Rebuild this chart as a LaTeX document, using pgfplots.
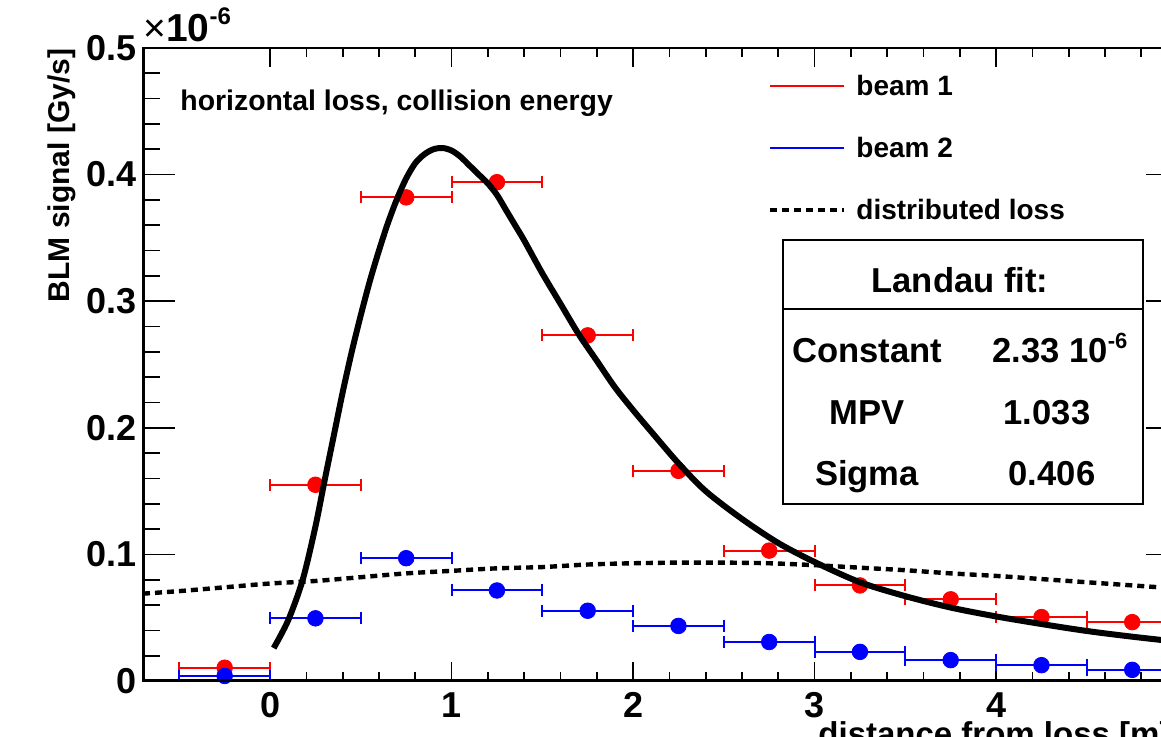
\documentclass[border=0pt]{standalone}
\usepackage{pgfplots}
\pgfplotsset{compat=1.18}
\usepackage{fontspec}
\setmainfont{Liberation Sans}
\definecolor{beamred}{RGB}{255,0,0}
\definecolor{beamblue}{RGB}{0,0,255}
\begin{document}
\bfseries
\begin{tikzpicture}
\pgfplotsset{
  frame/.style={
    scale only axis, width=517.3pt, height=316.5pt,
    xmin=-0.7, xmax=5, ymin=0, ymax=0.5,
    at={(0pt,0pt)}, anchor=south west,
  },
}
% y axis: ticks, tick labels and title
\begin{axis}[frame, hide x axis, axis line style={draw=none},
  ytick={0,0.1,0.2,0.3,0.4,0.5}, minor y tick num=4, ytick pos=both, tick align=inside,
  major tick length=16pt, minor tick length=8.5pt,
  tick style={line width=0.85pt, black},
  scaled y ticks=false,
  yticklabel style={font=\fontsize{18}{18}\selectfont\bfseries, inner sep=0pt, xshift=-3pt,
     /pgf/number format/.cd, fixed, precision=1, assume math mode=true},
  ylabel={BLM signal [Gy/s]},
  every axis y label/.style={at={(rel axis cs:-0.0715,1.01)}, anchor=base east, rotate=90,
     font=\fontsize{15}{15}\selectfont\bfseries},
]
\end{axis}
% x axis, frame and data
\begin{axis}[frame,
  clip mode=individual,
  axis line style={line width=1pt},
  ytick=\empty,
  xtick={0,1,2,3,4,5}, minor x tick num=4, xtick pos=both, tick align=inside,
  major tick length=9.5pt, minor tick length=4.5pt,
  tick style={line width=0.85pt, black},
  xticklabel style={font=\fontsize{18}{18}\selectfont\bfseries, inner sep=0pt, yshift=-5.5pt,
     /pgf/number format/assume math mode=true},
  xlabel={distance from loss [m]},
  every axis x label/.style={at={(rel axis cs:1,0)}, anchor=base east, yshift=-32.5pt,
     font=\fontsize{16.5}{16.5}\selectfont\bfseries},
  legend style={draw=none, fill=none, inner sep=0pt, outer sep=0pt,
    at={(rel axis cs:0.6041,0.9558)}, anchor=north west,
    font=\fontsize{14}{14}\selectfont\bfseries,
    row sep=21pt, column sep=0pt,
    nodes={inner sep=0pt, text height=10pt, text depth=0pt},
    /tikz/every odd column/.append style={column sep=5pt}},
  legend cell align=left,
]
% beam 1
\addplot[beamred, only marks, mark=*, mark size=3.9pt,
  legend image code/.code={\draw[beamred, line width=0.7pt] (0pt,0pt) -- (37pt,0pt);},
  error bars/.cd, x dir=both, x fixed=0.25,
  error bar style={line width=1pt, beamred},
  error mark options={rotate=90, beamred, mark size=3pt, line width=1pt}]
coordinates {
(-0.25,0.0105) (0.25,0.155) (0.75,0.382) (1.25,0.394) (1.75,0.273)
(2.25,0.166) (2.75,0.103) (3.25,0.0755) (3.75,0.0645) (4.25,0.0505) (4.75,0.0465)
};
\addlegendentry{beam 1}
% beam 2
\addplot[beamblue, only marks, mark=*, mark size=3.9pt,
  legend image code/.code={\draw[beamblue, line width=0.7pt] (0pt,0pt) -- (37pt,0pt);},
  error bars/.cd, x dir=both, x fixed=0.25,
  error bar style={line width=1pt, beamblue},
  error mark options={rotate=90, beamblue, mark size=3pt, line width=1pt}]
coordinates {
(-0.25,0.004) (0.25,0.0495) (0.75,0.097) (1.25,0.0715) (1.75,0.0555)
(2.25,0.0435) (2.75,0.0308) (3.25,0.023) (3.75,0.0165) (4.25,0.0125) (4.75,0.0088)
};
\addlegendentry{beam 2}
% distributed loss
\addplot[black, line width=2.2pt, dash pattern=on 3.5pt off 2.5pt, smooth,
  legend image code/.code={\draw[black, line width=2.2pt, dash pattern=on 3.5pt off 2.5pt] (0pt,0pt) -- (37pt,0pt);}]
coordinates {
(-0.7,0.069) (-0.5,0.071) (-0.25,0.074) (0,0.077) (0.25,0.079) (0.5,0.082)
(0.75,0.085) (1.0,0.087) (1.25,0.089) (1.5,0.090) (1.75,0.092) (2.0,0.093)
(2.25,0.0935) (2.5,0.0935) (2.75,0.093) (3.0,0.0915) (3.25,0.0895) (3.5,0.0875)
(3.75,0.085) (4.0,0.083) (4.25,0.0805) (4.5,0.078) (4.75,0.0755) (5.0,0.073)
};
\addlegendentry{distributed loss}
% Landau fit
\addplot[black, line width=3pt, smooth, forget plot]
coordinates {
(0.02,0.026) (0.1,0.048) (0.18,0.08) (0.25,0.122) (0.3,0.158) (0.35,0.193)
(0.4,0.228) (0.45,0.260) (0.5,0.289) (0.55,0.316) (0.6,0.340) (0.65,0.362)
(0.7,0.381) (0.75,0.397) (0.8,0.409) (0.85,0.416) (0.9,0.420) (0.95,0.421)
(1.0,0.419) (1.05,0.414) (1.1,0.407) (1.15,0.400) (1.2,0.393) (1.25,0.384)
(1.3,0.372) (1.35,0.360) (1.4,0.348) (1.5,0.322) (1.6,0.298) (1.7,0.274)
(1.8,0.253) (1.9,0.232) (2.0,0.214) (2.1,0.197) (2.25,0.172) (2.4,0.150)
(2.6,0.128) (2.8,0.109) (3.0,0.094) (3.25,0.078) (3.5,0.067) (3.75,0.058)
(4.0,0.051) (4.25,0.045) (4.5,0.0395) (4.75,0.035) (5.0,0.031)
};
% heavier left and bottom axis lines
\draw[line width=1.5pt] (rel axis cs:0,1) -- (rel axis cs:0,0) -- (rel axis cs:1,0);
% exponent of the y axis
\node[anchor=base west, inner sep=0pt, font=\fontsize{19.5}{19.5}\selectfont\bfseries]
  at (rel axis cs:0,1) [yshift=3pt] {{\mdseries ×}10\raisebox{8.5pt}{\fontsize{12}{12}\selectfont -6}};
% title text
\node[anchor=base west, inner sep=0pt, font=\fontsize{14.2}{14.2}\selectfont\bfseries]
  at (rel axis cs:0.0358,0.9005) {horizontal loss, collision energy};
% fit parameter box
\draw[line width=0.8pt, fill=white] (rel axis cs:0.6186,0.2796) rectangle (rel axis cs:0.9666,0.6967);
\draw[line width=0.8pt] (rel axis cs:0.6186,0.5877) -- (rel axis cs:0.9666,0.5877);
\begin{scope}[every node/.style={inner sep=0pt, text height=12.4pt, text depth=0pt,
    font=\fontsize{17.3}{17.3}\selectfont\bfseries}]
\node at (rel axis cs:0.7897,0.6335) {Landau fit:};
\node at (rel axis cs:0.6998,0.5229) {Constant};
\node at (rel axis cs:0.8863,0.5229) {2.33 10\raisebox{7pt}{\fontsize{11}{11}\selectfont -6}};
\node at (rel axis cs:0.6998,0.4250) {MPV};
\node at (rel axis cs:0.8738,0.4250) {1.033};
\node at (rel axis cs:0.6998,0.3286) {Sigma};
\node at (rel axis cs:0.8786,0.3286) {0.406};
\end{scope}
\end{axis}
\pgfresetboundingbox
\path[use as bounding box] (-71.5pt,-28pt) rectangle (509pt,340.5pt);
\end{tikzpicture}
\end{document}
